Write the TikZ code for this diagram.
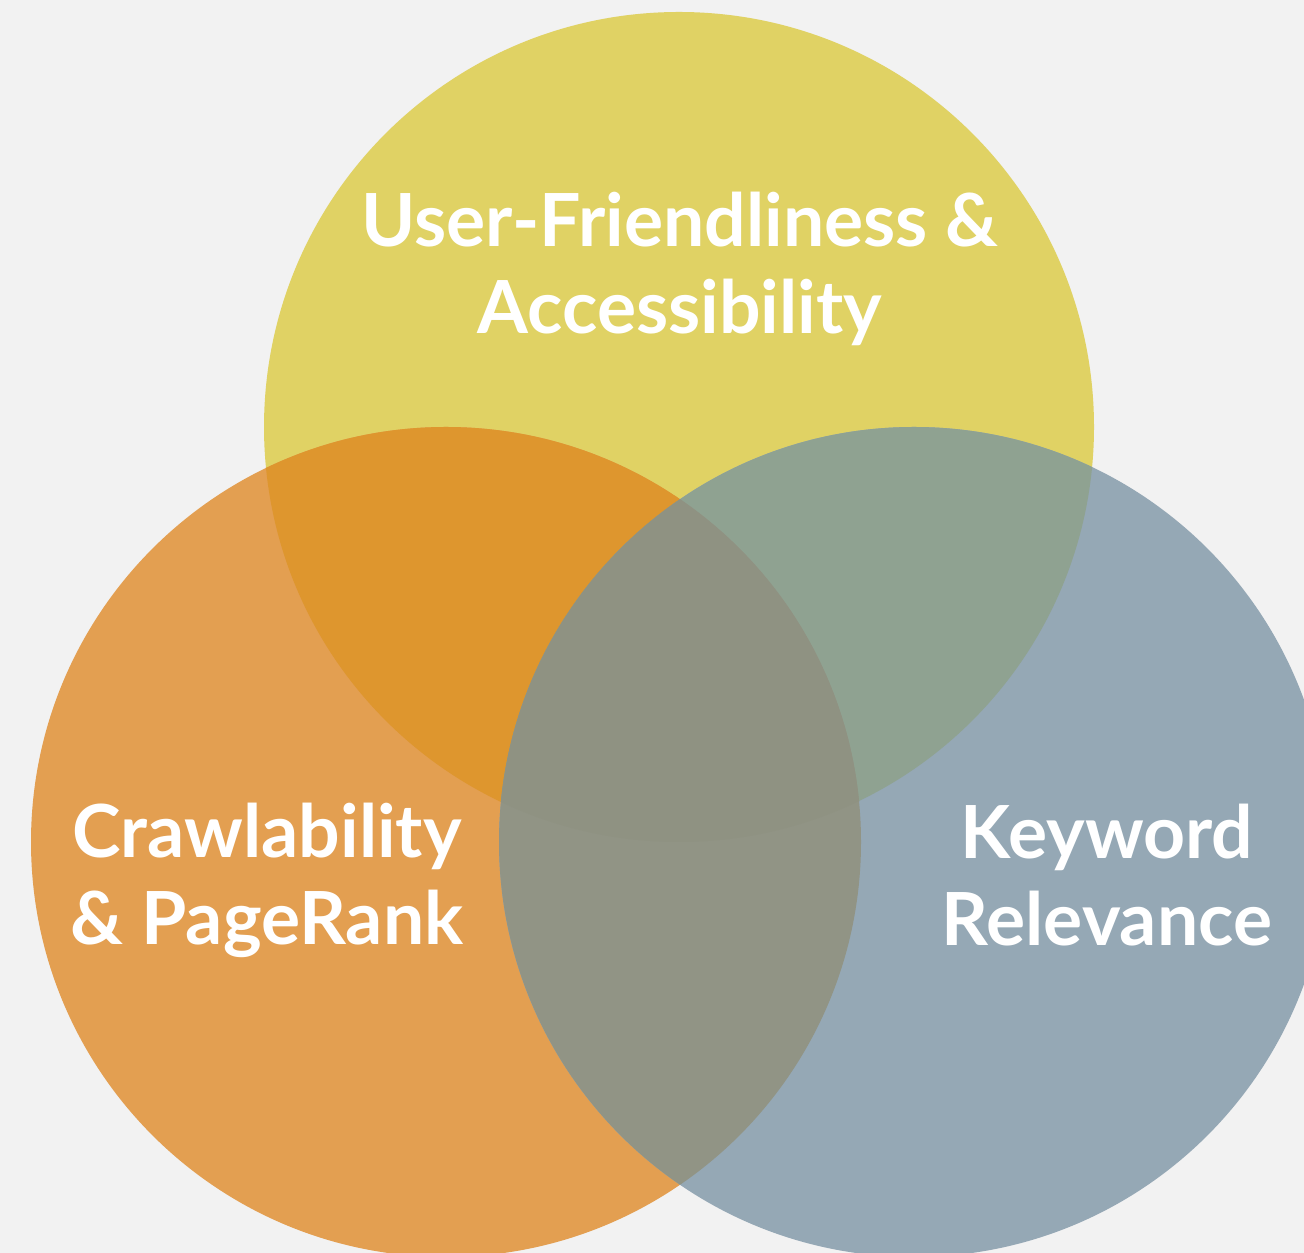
\documentclass[tikz,border=0pt]{standalone}
\usepackage{fontspec}
\setmainfont{Lato}
\usetikzlibrary{positioning}

\definecolor{bggray}{HTML}{F2F2F2}
\definecolor{uxyellow}{HTML}{E0D264}
\definecolor{crorange}{HTML}{E39F51}
\definecolor{kwblue}{HTML}{95A8B5}
\definecolor{uxcr}{HTML}{DE962E}
\definecolor{uxkw}{HTML}{8FA291}
\definecolor{crkw}{HTML}{919485}
\definecolor{allthree}{HTML}{8F9282}

\tikzset{
  venntext/.style={text=white,align=center,
    font=\fontsize{41.7}{49.5}\selectfont\bfseries}
}

\begin{document}
\begin{tikzpicture}[x=0.02cm,y=0.02cm]
\useasboundingbox (0,0) rectangle (1304,1253);
\fill[bggray] (0,0) rectangle (1304,1253);
\def\vennr{415}
\coordinate (ux) at (679,826);
\coordinate (cr) at (446,411);
\coordinate (kw) at (914,411);

% the three sets
\fill[uxyellow] (ux) circle (\vennr);
\fill[crorange] (cr) circle (\vennr);
\fill[kwblue] (kw) circle (\vennr);

% overlaps
\begin{scope}
  \clip (ux) circle (\vennr);
  \fill[uxcr] (cr) circle (\vennr);
  \fill[uxkw] (kw) circle (\vennr);
\end{scope}
\begin{scope}
  \clip (cr) circle (\vennr);
  \fill[crkw] (kw) circle (\vennr);
  \clip (kw) circle (\vennr);
  \fill[allthree] (ux) circle (\vennr);
\end{scope}

\node[venntext] (uxlabel) at (680,984) {User-Friendliness \&\\Accessibility};
\node[venntext] (crlabel) at (267,373) {Crawlability\\\& PageRank};
\node[venntext] (kwlabel) at (1107,378) {Keyword\\Relevance};
\end{tikzpicture}
\end{document}
